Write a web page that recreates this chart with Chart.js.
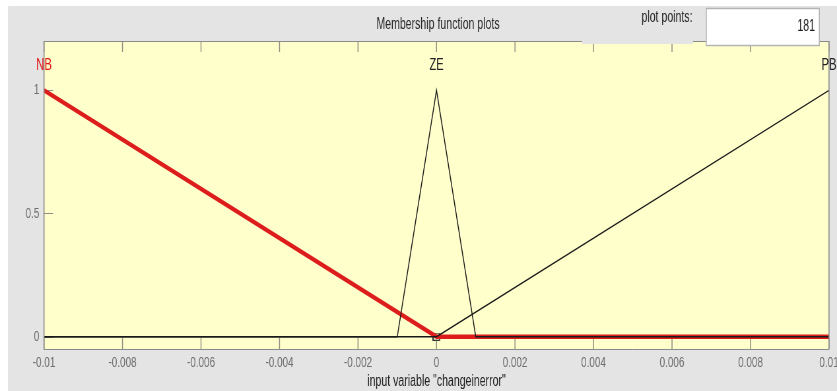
<!DOCTYPE html>
<html>
<head>
<meta charset="utf-8">
<script src="https://cdn.jsdelivr.net/npm/chart.js@4/dist/chart.umd.min.js"></script>
<style>
  html, body { margin: 0; padding: 0; background: #fff; overflow: hidden; }
  #wrap { width: 837px; height: 391px; overflow: hidden; }
  #mf { transform-origin: 0 0; }
</style>
</head>
<body>
<div id="wrap"><canvas id="mf" width="1268" height="391"></canvas></div>
<script>
// membership functions of input "changeinerror"
const xTicks = [-0.01, -0.008, -0.006, -0.004, -0.002, 0, 0.002, 0.004, 0.006, 0.008, 0.01];
const xTickLabels = ["-0.01", "-0.008", "-0.006", "-0.004", "-0.002", "0", "0.002", "0.004", "0.006", "0.008", "0.01"];
const yTicks = [0, 0.5, 1];
const yTickLabels = ["0", "0.5", "1"];

const mfNames = ["NB", "ZE", "PB"];
const mfPeaks = [-0.01, 0, 0.01];

const nbX = [-0.01, 0, 0.01];
const nbY = [1, 0, 0];
const zeX = [-0.01, -0.001, 0, 0.001, 0.01];
const zeY = [0, 0, 1, 0, 0];
const pbX = [-0.01, 0, 0.01];
const pbY = [0, 0, 1];

const selX = [0];
const selY = [0];

// canvas is squeezed horizontally to get the narrow look of the MATLAB font
const K = 837 / 1268;
document.getElementById("mf").style.transform = "scaleX(" + K + ")";
const sx = px => px / K;

const FONT = '"Liberation Sans", Arial, sans-serif';

const pts = (xs, ys) => xs.map((x, i) => ({ x: x, y: ys[i] }));

// small hollow square for the selected point (pre-stretched so it looks square)
const sq = document.createElement("canvas");
sq.width = Math.round(sx(8));
sq.height = 8;
(() => {
  const c = sq.getContext("2d");
  c.fillStyle = "rgba(255,255,215,0.55)";
  c.fillRect(0, 0, sq.width, 8);
  c.fillStyle = "#3a3a3a";
  c.fillRect(0, 0, sq.width, 1);
  c.fillRect(0, 7, sq.width, 1);
  c.fillRect(0, 0, 2, 8);
  c.fillRect(sq.width - 2, 0, 2, 8);
})();

const panel = {
  id: "panel",
  beforeDraw(chart) {
    const ctx = chart.ctx, a = chart.chartArea;
    ctx.save();
    ctx.fillStyle = "#ffffff";
    ctx.fillRect(0, 0, chart.width, chart.height);
    ctx.fillStyle = "#e4e4e4";
    ctx.fillRect(sx(8), 6, chart.width, chart.height);
    ctx.fillStyle = "#ffffcc";
    ctx.fillRect(a.left, a.top, a.right - a.left, a.bottom - a.top);
    ctx.restore();
  },
  beforeDatasetsDraw(chart) {
    const ctx = chart.ctx, a = chart.chartArea;
    const xs = chart.scales.x, ys = chart.scales.y;
    ctx.save();
    ctx.strokeStyle = "#8e8e82";
    ctx.lineWidth = 1.5;
    ctx.beginPath();
    xTicks.forEach(v => {
      const px = xs.getPixelForValue(v);
      ctx.moveTo(px, a.top); ctx.lineTo(px, a.top + 11);
      ctx.moveTo(px, a.bottom); ctx.lineTo(px, a.bottom - 11);
    });
    ctx.stroke();
    ctx.lineWidth = 1;
    ctx.beginPath();
    yTicks.forEach(v => {
      const py = Math.round(ys.getPixelForValue(v)) + 0.5;
      ctx.moveTo(a.left, py); ctx.lineTo(a.left + sx(9), py);
    });
    ctx.stroke();
    ctx.restore();
  },
  afterDatasetsDraw(chart) {
    const ctx = chart.ctx, a = chart.chartArea;
    const t = Math.round(a.top) + 0.5, b = Math.round(a.bottom) + 0.5;
    ctx.save();
    ctx.strokeStyle = "#8a8a8a";
    ctx.lineWidth = 1;
    ctx.beginPath();
    ctx.moveTo(a.left, t); ctx.lineTo(a.right, t);
    ctx.moveTo(a.left, b); ctx.lineTo(a.right, b);
    ctx.stroke();
    ctx.lineWidth = 1.6;
    ctx.beginPath();
    ctx.moveTo(a.left, t); ctx.lineTo(a.left, b);
    ctx.moveTo(a.right, t); ctx.lineTo(a.right, b);
    ctx.stroke();
    ctx.restore();
  },
  afterDraw(chart) {
    const ctx = chart.ctx;
    const xs = chart.scales.x, ys = chart.scales.y;
    ctx.save();
    // MF names above each peak
    ctx.font = "17px " + FONT;
    ctx.textAlign = "center";
    ctx.textBaseline = "middle";
    mfNames.forEach((n, i) => {
      ctx.fillStyle = i === 0 ? "#e01818" : "#222222";
      ctx.fillText(n, xs.getPixelForValue(mfPeaks[i]), ys.getPixelForValue(1.1));
    });
    // header
    ctx.font = "16px " + FONT;
    ctx.fillStyle = "#2a2a2a";
    ctx.fillText("Membership function plots", sx(438), 25);
    ctx.fillStyle = "#e4e4e4";
    ctx.fillRect(sx(582), 38, sx(111), 6);
    ctx.fillStyle = "#2a2a2a";
    ctx.fillText("plot points:", sx(667), 18);
    ctx.fillStyle = "#ffffff";
    ctx.fillRect(sx(706), 8, sx(113), 38);
    ctx.strokeStyle = "#b4b4b4";
    ctx.lineWidth = 1.5;
    ctx.strokeRect(sx(706) + 0.5, 8.5, sx(113), 37);
    ctx.textAlign = "right";
    ctx.fillStyle = "#222222";
    ctx.fillText("181", sx(815), 27);
    ctx.restore();
  }
};

new Chart(document.getElementById("mf"), {
  type: "scatter",
  data: {
    datasets: [
      { data: pts(zeX, zeY), showLine: true, borderColor: "#1a1a1a", borderWidth: 1.4, pointRadius: 0 },
      { data: pts(pbX, pbY), showLine: true, borderColor: "#1a1a1a", borderWidth: 1.4, pointRadius: 0 },
      { data: pts(nbX, nbY), showLine: true, borderColor: "#dd1c1c", borderWidth: 4.5, pointRadius: 0 },
      { data: pts(selX, selY), pointStyle: sq, pointRadius: 5 }
    ]
  },
  options: {
    responsive: false,
    animation: false,
    events: [],
    layout: { padding: { left: sx(8), top: 41, right: sx(8), bottom: 0 } },
    plugins: { legend: { display: false }, tooltip: { enabled: false } },
    scales: {
      x: {
        type: "linear",
        min: -0.01,
        max: 0.01,
        afterBuildTicks: s => { s.ticks = xTicks.map(v => ({ value: v })); },
        afterFit: s => { s.height = 42; s.paddingLeft = 0; s.paddingRight = 0; },
        grid: { display: false, drawTicks: false },
        border: { display: false },
        ticks: {
          autoSkip: false, maxRotation: 0, padding: 5,
          color: "#6e6e6e", font: { family: FONT, size: 15 },
          callback: (v, i) => xTickLabels[i]
        },
        title: {
          display: true, text: 'input variable "changeinerror"',
          color: "#222222", font: { family: FONT, size: 16 },
          padding: { top: 0, bottom: 0 }
        }
      },
      y: {
        min: -0.05,
        max: 1.2,
        afterBuildTicks: s => { s.ticks = yTicks.map(v => ({ value: v })); },
        afterFit: s => { s.width = sx(44) - sx(8); s.paddingTop = 0; s.paddingBottom = 0; },
        grid: { display: false, drawTicks: false },
        border: { display: false },
        ticks: {
          padding: 7,
          color: "#6e6e6e", font: { family: FONT, size: 15 },
          callback: (v, i) => yTickLabels[i]
        }
      }
    }
  },
  plugins: [panel]
});
</script>
</body>
</html>
